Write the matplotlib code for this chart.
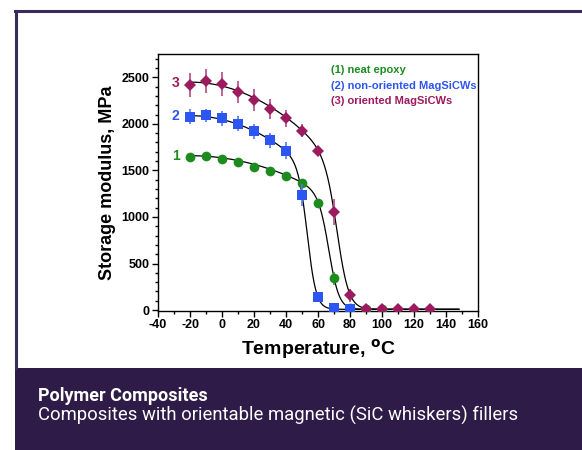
import numpy as np
import matplotlib
matplotlib.use("Agg")
import matplotlib.pyplot as plt
from matplotlib.patches import Rectangle
from matplotlib.ticker import MultipleLocator

plt.rcParams["axes.unicode_minus"] = False

# DMA storage modulus vs temperature
temp = [-20, -10, 0, 10, 20, 30, 40, 50, 60, 70, 80, 90, 100, 110, 120, 130]

neat_epoxy = [1640, 1650, 1625, 1590, 1540, 1490, 1435, 1365, 1150, 340, 20, 10, 10]
neat_err = [20, 20, 20, 20, 20, 20, 25, 30, 30, 70, 10, 5, 5]

non_oriented = [2075, 2090, 2060, 2000, 1920, 1825, 1710, 1235, 136, 18, 10]
non_oriented_err = [80, 70, 80, 80, 80, 80, 90, 120, 20, 10, 5]

oriented = [2420, 2460, 2425, 2340, 2255, 2160, 2060, 1925, 1710, 1055, 160, 12, 10, 10, 10, 10]
oriented_err = [130, 130, 130, 120, 120, 110, 90, 70, 20, 140, 70, 5, 5, 5, 5, 5]

# sigmoid fit parameters: glassy modulus, curvature, Tg, width, rubbery modulus
fit_neat = [1650, 0.058, 67.1, 3.2, 8]
fit_non_oriented = [2080, 0.103, 53.6, 2.8, 8]
fit_oriented = [2440, 0.105, 72.5, 3.7, 8]

labels = ["(1) neat epoxy", "(2) non-oriented MagSiCWs", "(3) oriented MagSiCWs"]
colors = ["#1c8c1e", "#2d55f2", "#9c1b5e"]
err_colors = ["#3a9c3a", "#5577f0", "#b04a80"]
markers = ["o", "s", "D"]
marker_sizes = [7, 6.5, 6.5]


def fit_curve(t, p):
    e0, k, tg, w, er = p
    glassy = e0 - k * (t + 20) ** 2
    return glassy / (1 + np.exp((t - tg) / w)) + er


fig = plt.figure(figsize=(5.82, 4.5), dpi=100)

# outer frame and caption band
frame = "#3b2b5c"
fig.add_artist(plt.Line2D([16 / 582, 16 / 582], [1 - 368 / 450, 1 - 11 / 450],
                          transform=fig.transFigure, color=frame, lw=2.2))
fig.add_artist(plt.Line2D([15 / 582, 1], [1 - 11 / 450, 1 - 11 / 450],
                          transform=fig.transFigure, color=frame, lw=2.2))
fig.add_artist(Rectangle((15 / 582, 0), 1, 1 - 368 / 450,
                         transform=fig.transFigure, color="#2e1b47", lw=0))
fig.text(38 / 582, 1 - 396 / 450, "Polymer Composites", color="white",
         fontsize=13, fontweight="bold", family="Roboto", va="center")
fig.text(38 / 582, 1 - 415 / 450, "Composites with orientable magnetic (SiC whiskers) fillers",
         color="white", fontsize=13.3, family="Roboto", va="center")

ax = fig.add_axes([158 / 582, 1 - 311 / 450, 320 / 582, 257 / 450])

t_fit = np.linspace(-20, 148, 600)
series = [
    (neat_epoxy, neat_err, fit_neat),
    (non_oriented, non_oriented_err, fit_non_oriented),
    (oriented, oriented_err, fit_oriented),
]
for vals, errs, fit in series:
    ax.plot(t_fit, fit_curve(t_fit, fit), color="black", lw=0.9, zorder=2)
for i, (vals, errs, fit) in enumerate(series):
    x = temp[:len(vals)]
    ax.errorbar(x, vals, yerr=errs, fmt=markers[i], color=colors[i],
                ecolor=err_colors[i], elinewidth=1.2, capsize=3, capthick=1.2,
                markersize=marker_sizes[i], markeredgewidth=0, zorder=3 + i)

# curve numbers
for i, (txt, yv) in enumerate(zip(["1", "2", "3"], [1650, 2080, 2440])):
    ax.text(-29, yv, txt, color=colors[i], fontsize=10, fontweight="bold",
            family="Liberation Sans", ha="center", va="center")

for i, (lab, yv) in enumerate(zip(labels, [2575, 2405, 2245])):
    ax.text(68, yv, lab, color=colors[i], fontsize=8, fontweight="bold",
            family="Liberation Sans", ha="left", va="center")

ax.set_xlim(-40, 160)
ax.set_ylim(-10, 2750)
ax.xaxis.set_major_locator(MultipleLocator(20))
ax.xaxis.set_minor_locator(MultipleLocator(10))
ax.yaxis.set_major_locator(MultipleLocator(500))
ax.yaxis.set_minor_locator(MultipleLocator(100))
ax.tick_params(which="major", direction="out", length=4, width=1, pad=2, labelsize=9)
ax.tick_params(which="minor", direction="out", length=2.5, width=1)
for lab in ax.get_xticklabels() + ax.get_yticklabels():
    lab.set_fontweight("bold")
    lab.set_family("Liberation Sans")
for sp in ax.spines.values():
    sp.set_linewidth(1)

ax.set_ylabel("Storage modulus, MPa", fontsize=13, fontweight="bold",
              family="Liberation Sans", labelpad=4)
ax.set_xlabel(r"Temperature, $^{\mathbf{o}}$C", fontsize=14, fontweight="bold",
              family="Liberation Sans", labelpad=4)

fig.savefig("out.png", dpi=100)
